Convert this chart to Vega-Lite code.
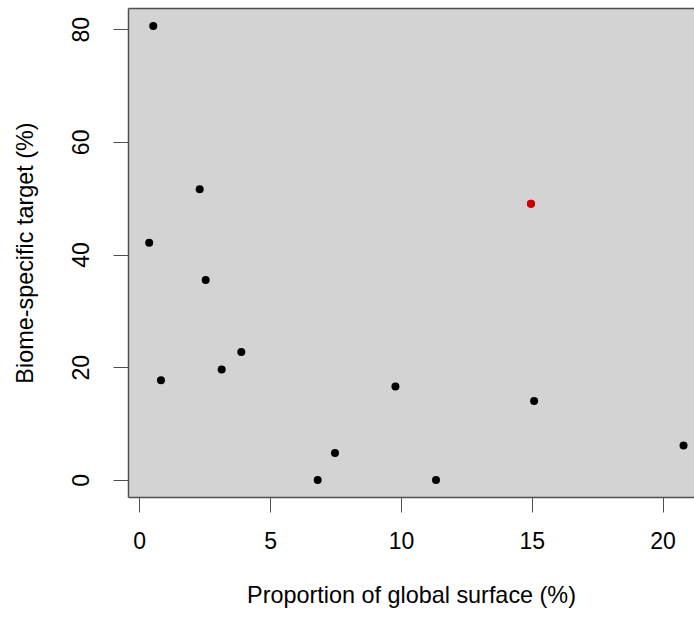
{
  "$schema": "https://vega.github.io/schema/vega-lite/v6.json",
  "width": 566,
  "height": 489,
  "autosize": "none",
  "padding": {"left": 128, "top": 8, "right": 0, "bottom": 121},
  "background": "white",
  "config": {
    "view": {"fill": "#d3d3d3", "stroke": null},
    "font": "Liberation Sans",
    "axis": {
      "grid": false,
      "domainColor": "#505050",
      "domainWidth": 1.5,
      "tickColor": "#505050",
      "tickWidth": 1,
      "tickSize": 15,
      "labelFont": "Liberation Sans",
      "labelFontSize": 23,
      "labelColor": "black",
      "titleFont": "Liberation Sans",
      "titleFontSize": 23.4,
      "titleFontWeight": "normal",
      "titleColor": "black"
    }
  },
  "data": {
    "values": [
      {"surface": 0.535, "target": 80.55, "group": "other"},
      {"surface": 2.31, "target": 51.6, "group": "other"},
      {"surface": 0.38, "target": 42.1, "group": "other"},
      {"surface": 2.54, "target": 35.5, "group": "other"},
      {"surface": 3.9, "target": 22.7, "group": "other"},
      {"surface": 3.15, "target": 19.6, "group": "other"},
      {"surface": 0.83, "target": 17.7, "group": "other"},
      {"surface": 9.79, "target": 16.6, "group": "other"},
      {"surface": 15.09, "target": 14.0, "group": "other"},
      {"surface": 7.48, "target": 4.8, "group": "other"},
      {"surface": 6.82, "target": 0.0, "group": "other"},
      {"surface": 11.34, "target": 0.0, "group": "other"},
      {"surface": 20.8, "target": 6.1, "group": "other"},
      {"surface": 14.97, "target": 49.0, "group": "highlight"}
    ]
  },
  "encoding": {
    "x": {
      "field": "surface",
      "type": "quantitative",
      "scale": {"domain": [-0.43, 21.2], "nice": false, "zero": false},
      "axis": {
        "orient": "bottom",
        "values": [0, 5, 10, 15, 20],
        "labelPadding": 18.5,
        "titlePadding": 31,
        "title": "Proportion of global surface (%)"
      }
    },
    "y": {
      "field": "target",
      "type": "quantitative",
      "scale": {"domain": [-3.02, 83.75], "nice": false, "zero": false},
      "axis": {
        "values": [0, 20, 40, 60, 80],
        "labelAngle": -90,
        "labelAlign": "center",
        "labelBaseline": "bottom",
        "labelPadding": 20,
        "titlePadding": 33,
        "title": "Biome-specific target (%)"
      }
    },
    "color": {
      "field": "group",
      "type": "nominal",
      "scale": {"domain": ["other", "highlight"], "range": ["black", "#cd0000"]},
      "legend": null
    }
  },
  "layer": [
    {
      "mark": {"type": "point", "filled": true, "shape": "circle", "size": 64, "opacity": 1}
    },
    {
      "transform": [{"filter": "datum.group === 'highlight'"}],
      "mark": {"type": "point", "filled": true, "shape": "circle", "size": 64, "opacity": 1},
      "encoding": {
        "x": {
          "field": "surface",
          "type": "quantitative",
          "axis": {"orient": "top", "ticks": false, "labels": false, "title": null, "domain": true}
        }
      }
    }
  ],
  "resolve": {"axis": {"x": "independent"}}
}
